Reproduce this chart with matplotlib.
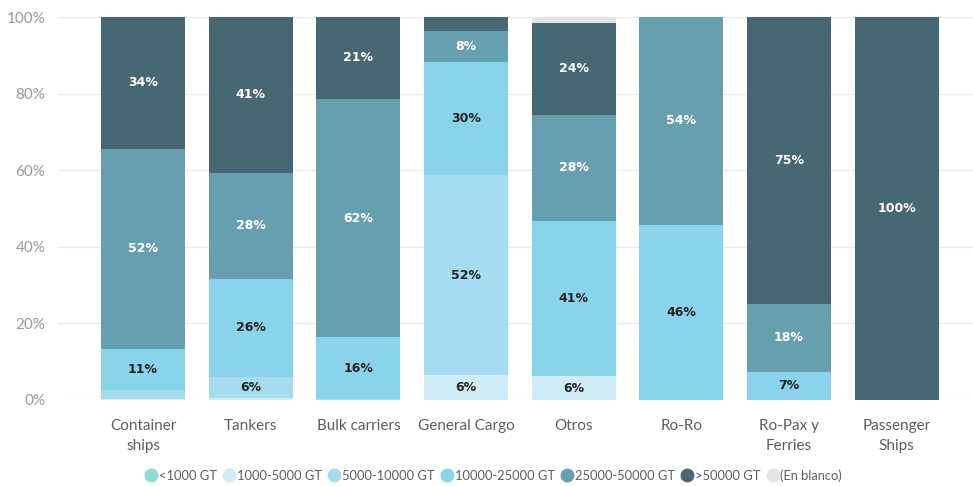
import matplotlib
matplotlib.use("Agg")
import matplotlib.pyplot as plt
import numpy as np
from matplotlib.lines import Line2D

plt.rcParams["font.family"] = ["Lato", "DejaVu Sans"]

categories = ["Container\nships", "Tankers", "Bulk carriers", "General Cargo",
              "Otros", "Ro-Ro", "Ro-Pax y\nFerries", "Passenger\nShips"]

series_names = ["<1000 GT", "1000-5000 GT", "5000-10000 GT", "10000-25000 GT",
                "25000-50000 GT", ">50000 GT", "(En blanco)"]

lt_1000 = [0, 0, 0, 0, 0, 0, 0, 0]
gt_1000_5000 = [0.3, 0.4, 0, 6.4, 6.2, 0, 0, 0]
gt_5000_10000 = [2.4, 5.6, 0.3, 52.4, 0, 0, 0, 0]
gt_10000_25000 = [10.6, 25.6, 16.1, 29.5, 40.6, 45.7, 7.4, 0]
gt_25000_50000 = [52.3, 27.7, 62.2, 8.0, 27.7, 54.3, 17.7, 0]
gt_50000 = [34.4, 40.7, 21.4, 3.7, 24.0, 0, 74.9, 100]
en_blanco = [0, 0, 0, 0, 1.5, 0, 0, 0]

series = [lt_1000, gt_1000_5000, gt_5000_10000, gt_10000_25000,
          gt_25000_50000, gt_50000, en_blanco]
colors = ["#8fdccf", "#cfebf6", "#a5dcef", "#89d4eb", "#659fb0", "#466872", "#e4e4e4"]
label_colors = ["#252423", "#252423", "#252423", "#252423", "white", "white", "#252423"]

fig = plt.figure(figsize=(9.73, 4.86), dpi=100)
ax = fig.add_axes([0.0596, 0.177, 0.9404, 0.788])

x = np.arange(len(categories))
bottom = np.zeros(len(categories))
for vals, col, tcol in zip(series, colors, label_colors):
    vals = np.array(vals, dtype=float)
    ax.bar(x, vals, 0.78, bottom=bottom, color=col, edgecolor="none", zorder=2)
    for xi, v, b in zip(x, vals, bottom):
        if v >= 5:
            ax.text(xi, b + v / 2, f"{v:.0f}%", ha="center", va="center",
                    color=tcol, fontsize=9, fontweight="bold",
                    family="DejaVu Sans", zorder=3)
    bottom += vals

ax.set_xlim(-0.79, 7.71)
ax.set_ylim(0, 100)
ax.set_yticks([0, 20, 40, 60, 80, 100])
ax.set_yticklabels(["0%", "20%", "40%", "60%", "80%", "100%"])
ax.yaxis.grid(True, color="#ebebeb", linewidth=1, zorder=0)
ax.set_xticks(x)
ax.set_xticklabels(categories, color="#605e5c", fontsize=11, linespacing=1.55)
ax.tick_params(axis="y", colors="#999999", labelsize=11, length=0, pad=9)
ax.tick_params(axis="x", length=0, pad=14)
for s in ax.spines.values():
    s.set_visible(False)

handles = [Line2D([0], [0], marker="o", linestyle="none", markersize=9,
                  markerfacecolor=c, markeredgecolor=c) for c in colors]
fig.legend(handles, series_names, loc="center", bbox_to_anchor=(0.507, 0.022),
           ncol=7, frameon=False, fontsize=9.3, labelcolor="#605e5c",
           handletextpad=0.1, columnspacing=0.45, handlelength=1.0)

fig.savefig("out.png", dpi=100)
